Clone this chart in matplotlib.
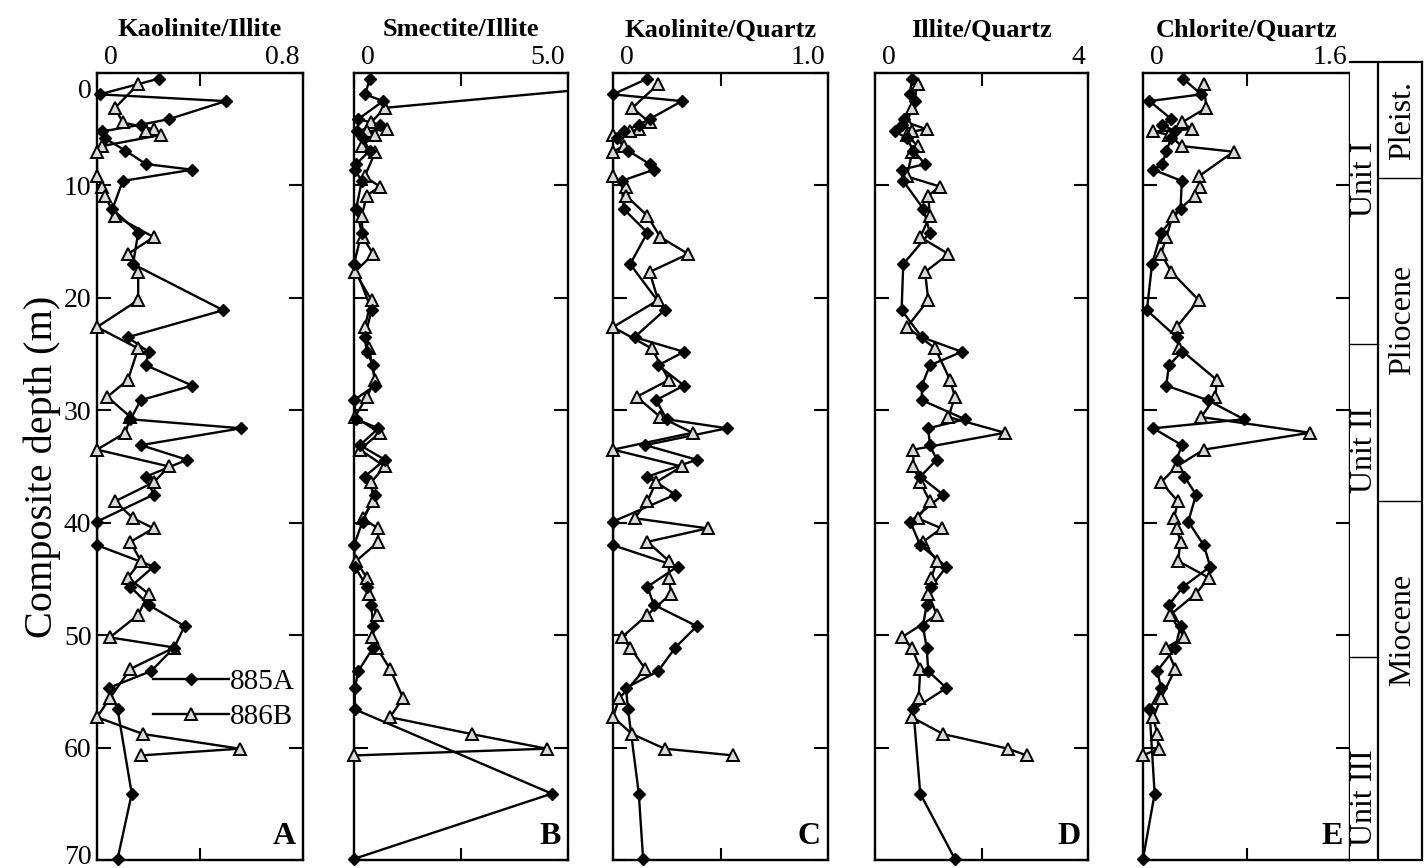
import matplotlib
matplotlib.use("Agg")
import matplotlib.pyplot as plt
from matplotlib.transforms import ScaledTranslation
import numpy as np

plt.rcParams['font.family'] = ['Liberation Serif', 'DejaVu Serif']

# Sample depths (composite depth, m)
depth_885A = [0.5, 1.9, 2.5, 4.1, 4.6, 5.2, 5.8, 6.9, 8.1, 8.6, 9.6, 12.1, 14.2, 17.0,
              21.1, 23.5, 24.8, 26.0, 27.8, 29.1, 30.8, 31.6, 33.1, 34.4, 35.9, 37.5,
              39.9, 42.0, 43.9, 45.7, 47.3, 49.2, 51.1, 53.2, 54.7, 56.6, 64.1, 69.9]
depth_886B = [1.0, 3.1, 4.4, 5.0, 5.2, 5.5, 6.5, 7.0, 9.2, 10.1, 10.9, 12.7, 14.6, 16.1,
              17.7, 20.2, 22.6, 24.5, 27.3, 28.8, 30.6, 32.0, 33.5, 35.0, 36.4, 38.1,
              39.6, 40.5, 41.7, 43.4, 44.9, 46.3, 48.2, 50.2, 51.1, 53.0, 55.6, 57.3,
              58.8, 60.1, 60.7]

# Kaolinite/Illite
kaol_illite_885A = [0.24, 0.01, 0.50, 0.28, 0.17, 0.02, 0.03, 0.11, 0.19, 0.37, 0.10, 0.06,
                    0.16, 0.14, 0.49, 0.12, 0.20, 0.19, 0.37, 0.17, 0.13, 0.56, 0.17, 0.35,
                    0.19, 0.22, 0.00, 0.00, 0.22, 0.13, 0.20, 0.34, 0.30, 0.21, 0.045, 0.08,
                    0.135, 0.08]
kaol_illite_886B = [0.16, 0.07, 0.10, 0.22, 0.19, 0.25, 0.02, 0.00, 0.00, 0.02, 0.03, 0.07,
                    0.22, 0.12, 0.16, 0.16, 0.00, 0.16, 0.12, 0.04, 0.13, 0.11, 0.00, 0.28,
                    0.22, 0.07, 0.14, 0.22, 0.13, 0.17, 0.12, 0.20, 0.16, 0.05, 0.30, 0.13,
                    0.05, 0.00, 0.18, 0.555, 0.17]

# Smectite/Illite
smec_illite_885A = [0.37, 0.26, 0.68, 0.10, 0.60, 0.06, 0.20, 0.37, 0.05, 0.02, 0.18, 0.05,
                    0.18, 0.00, 0.41, 0.25, 0.30, 0.45, 0.49, 0.00, 0.05, 0.57, 0.14, 0.72,
                    0.25, 0.49, 0.20, 0.00, 0.02, 0.30, 0.40, 0.45, 0.45, 0.10, 0.02, 0.02,
                    4.62, 0.00]
smec_illite_886B = [6.7, 0.72, 0.40, 0.76, 0.30, 0.50, 0.18, 0.50, 0.25, 0.60, 0.30, 0.18,
                    0.20, 0.45, 0.02, 0.41, 0.25, 0.35, 0.49, 0.30, 0.02, 0.60, 0.14, 0.72,
                    0.40, 0.45, 0.20, 0.56, 0.57, 0.05, 0.30, 0.35, 0.53, 0.41, 0.53, 0.84,
                    1.15, 0.84, 2.75, 4.50, 0.00]

# Kaolinite/Quartz
kaol_quartz_885A = [0.16, 0.00, 0.32, 0.17, 0.12, 0.05, 0.02, 0.07, 0.17, 0.19, 0.04, 0.05,
                    0.16, 0.08, 0.24, 0.10, 0.33, 0.21, 0.33, 0.20, 0.25, 0.53, 0.15, 0.39,
                    0.16, 0.29, 0.00, 0.00, 0.30, 0.16, 0.19, 0.39, 0.29, 0.21, 0.06, 0.07,
                    0.12, 0.14]
kaol_quartz_886B = [0.21, 0.09, 0.17, 0.12, 0.08, 0.00, 0.05, 0.00, 0.00, 0.06, 0.06, 0.16,
                    0.22, 0.35, 0.17, 0.21, 0.00, 0.18, 0.26, 0.11, 0.22, 0.37, 0.00, 0.32,
                    0.20, 0.16, 0.10, 0.44, 0.16, 0.26, 0.26, 0.27, 0.16, 0.04, 0.08, 0.15,
                    0.03, 0.00, 0.09, 0.24, 0.56]

# Illite/Quartz
illite_quartz_885A = [0.69, 0.66, 0.75, 0.55, 0.50, 0.38, 0.60, 0.72, 0.94, 0.50, 0.53, 0.91,
                      1.03, 0.53, 0.50, 0.88, 1.63, 1.03, 0.88, 0.88, 1.69, 1.00, 1.03, 1.16,
                      0.85, 1.28, 0.66, 0.85, 1.34, 1.06, 0.97, 0.90, 0.97, 1.00, 1.34, 0.72,
                      0.85, 1.50]
illite_quartz_886B = [0.80, 0.70, 0.60, 0.97, 0.70, 0.60, 0.80, 0.70, 0.60, 1.22, 1.00, 1.03,
                      0.85, 1.38, 0.94, 1.00, 0.60, 1.13, 1.41, 1.50, 1.38, 2.44, 0.72, 0.72,
                      0.85, 1.03, 0.80, 1.25, 0.90, 1.16, 1.06, 1.00, 1.16, 0.50, 0.69, 0.85,
                      0.82, 0.69, 1.28, 2.50, 2.85]

# Chlorite/Quartz
chlor_quartz_885A = [0.31, 0.45, 0.05, 0.22, 0.15, 0.25, 0.22, 0.18, 0.15, 0.08, 0.30, 0.29,
                     0.14, 0.07, 0.03, 0.26, 0.30, 0.20, 0.18, 0.50, 0.78, 0.08, 0.30, 0.26,
                     0.32, 0.41, 0.35, 0.47, 0.52, 0.31, 0.20, 0.29, 0.25, 0.11, 0.14, 0.05,
                     0.09, 0.00]
chlor_quartz_886B = [0.47, 0.49, 0.30, 0.38, 0.08, 0.20, 0.30, 0.70, 0.43, 0.44, 0.40, 0.23,
                     0.18, 0.14, 0.22, 0.43, 0.26, 0.28, 0.57, 0.56, 0.45, 1.29, 0.47, 0.26,
                     0.14, 0.27, 0.24, 0.26, 0.29, 0.27, 0.51, 0.41, 0.21, 0.32, 0.18, 0.25,
                     0.14, 0.08, 0.11, 0.12, 0.00]

titles = ["Kaolinite/Illite", "Smectite/Illite", "Kaolinite/Quartz",
          "Illite/Quartz", "Chlorite/Quartz"]
panel_letters = ["A", "B", "C", "D", "E"]
x_max = [0.8, 5.0, 1.0, 4, 1.6]
x_max_labels = ["0.8", "5.0", "1.0", "4", "1.6"]
series_885A = [kaol_illite_885A, smec_illite_885A, kaol_quartz_885A,
               illite_quartz_885A, chlor_quartz_885A]
series_886B = [kaol_illite_886B, smec_illite_886B, kaol_quartz_886B,
               illite_quartz_886B, chlor_quartz_886B]
depth_ticks = [0, 10, 20, 30, 40, 50, 60, 70]

# Lithologic units and epochs: (top, bottom, label, label depth)
units = [(0, 24.1, "Unit I", 9.5), (24.1, 51.9, "Unit II", 33.5),
         (51.9, 70, "Unit III", 64.5)]
epochs = [(0, 9.3, "Pleist.", 4.2), (9.3, 38.1, "Pliocene", 22.0),
          (38.1, 70, "Miocene", 49.5)]

W, H = 1425, 868
fig = plt.figure(figsize=(W / 100, H / 100), dpi=100)


def rect(x0, x1, y0, y1):
    return [x0 / W, 1 - y1 / H, (x1 - x0) / W, (y1 - y0) / H]


def shift(label, dx, dy):
    label.set_transform(label.get_transform()
                        + ScaledTranslation(dx / 100, dy / 100, fig.dpi_scale_trans))


panel_x = [(97, 303), (354, 568), (613, 828), (875, 1088), (1143, 1350)]
top_px, bot_px = 73, 860
line_kw = dict(color='k', lw=1.7, zorder=3)
tri_kw = dict(ls='none', marker='^', ms=8, mfc='0.85', mec='k', mew=1.4)
dia_kw = dict(ls='none', marker='D', ms=6, mfc='k', mec='k')

for i, (x0, x1) in enumerate(panel_x):
    ax = fig.add_axes(rect(x0, x1, top_px, bot_px))
    xm = x_max[i]
    d5 = np.array(depth_885A)
    v5 = np.array(series_885A[i])
    d6 = np.array(depth_886B)
    v6 = np.array(series_886B[i])

    ax.plot(v5, d5, '-', **line_kw)
    ax.plot(v6, d6, '-', **line_kw)
    m5 = v5 <= xm
    m6 = v6 <= xm
    ax.plot(v6[m6], d6[m6], clip_on=False, zorder=4, **tri_kw)
    ax.plot(v5[m5], d5[m5], clip_on=False, zorder=5, **dia_kw)

    ax.set_xlim(0, xm)
    ax.set_ylim(70, 0)
    for s in ax.spines.values():
        s.set_linewidth(1.7)

    ax.set_xticks([0, xm / 2, xm])
    ax.set_xticklabels(["0", "", x_max_labels[i]])
    ax.xaxis.tick_top()
    ax.tick_params(axis='x', which='both', direction='in', top=True, bottom=True,
                   labeltop=True, labelbottom=False, length=9, width=1.5,
                   labelsize=20, pad=2)
    xl = ax.get_xticklabels()
    xl[0].set_ha('left')
    shift(xl[0], 7, 0)
    xl[2].set_ha('right')
    shift(xl[2], -3, 0)

    ax.set_yticks(depth_ticks)
    ax.tick_params(axis='y', which='both', direction='in', left=True, right=True,
                   length=10, width=1.5, labelsize=20, pad=4,
                   labelleft=(i == 0))
    if i == 0:
        yl = ax.get_yticklabels()
        shift(yl[0], 0, -15)
        shift(yl[-1], 0, 5)
        ax.set_ylabel("Composite depth (m)", fontsize=29, labelpad=2)
        ax.legend(
            handles=[plt.Line2D([], [], marker='D', ms=6, mfc='k', color='k', lw=1.7),
                     plt.Line2D([], [], marker='^', ms=8, mfc='0.85', mec='k', mew=1.4,
                                color='k', lw=1.7)],
            labels=["885A", "886B"], loc='upper left',
            bbox_to_anchor=(0.2, 0.262), frameon=False, fontsize=21,
            handlelength=2.6, handletextpad=0.05, borderpad=0, labelspacing=0.3)

    ax.text(0.965, 0.012, panel_letters[i], transform=ax.transAxes, ha='right',
            va='bottom', fontsize=23, fontweight='bold')
    fig.text((x0 + x1) / 2 / W, 1 - 30 / H, titles[i], ha='center', va='center',
             fontsize=19, fontweight='bold')

# Lithostratigraphic / chronostratigraphic column, sharing the depth scale
col_top = 62
col = fig.add_axes(rect(1350, 1422, col_top, bot_px))
col.set_xlim(0, 1)
col.set_ylim(70, -(top_px - col_top) / ((bot_px - top_px) / 70))
col.set_xticks([])
col.set_yticks([])
for s in col.spines.values():
    s.set_linewidth(1.6)
col.spines['left'].set_visible(False)
split = 0.39
col.axvline(split, color='k', lw=1.6)
for top, bot, name, yd in units:
    if bot < 70:
        col.plot([0, split], [bot, bot], color='k', lw=1.0)
    col.text(split / 2, yd, name, rotation=90, ha='center', va='center', fontsize=23)
for top, bot, name, yd in epochs:
    if bot < 70:
        col.plot([split, 1], [bot, bot], color='k', lw=1.0)
    col.text((split + 1) / 2 + 0.03, yd, name, rotation=90, ha='center', va='center',
             fontsize=23)

fig.savefig("out.png", dpi=100)
